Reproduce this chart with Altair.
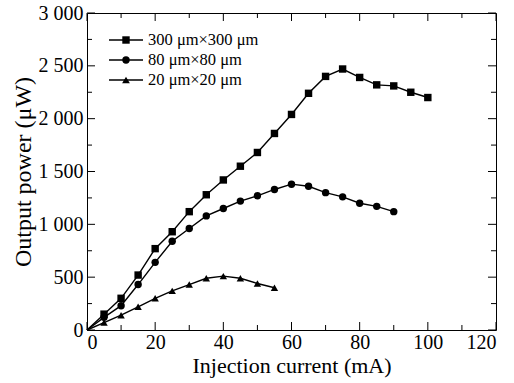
import altair as alt
import pandas as pd

# ---- data ----
series_names = ["300 μm×300 μm", "80 μm×80 μm", "20 μm×20 μm"]
current_300 = [0, 5, 10, 15, 20, 25, 30, 35, 40, 45, 50, 55, 60, 65, 70, 75, 80, 85, 90, 95, 100]
power_300 = [0, 150, 300, 520, 770, 930, 1120, 1280, 1420, 1550, 1680, 1860, 2040, 2240, 2400, 2470, 2390, 2320, 2310, 2250, 2200]
current_80 = [0, 5, 10, 15, 20, 25, 30, 35, 40, 45, 50, 55, 60, 65, 70, 75, 80, 85, 90]
power_80 = [0, 120, 230, 430, 640, 840, 960, 1080, 1150, 1220, 1270, 1330, 1380, 1360, 1300, 1260, 1200, 1170, 1120]
current_20 = [0, 5, 10, 15, 20, 25, 30, 35, 40, 45, 50, 55]
power_20 = [0, 70, 140, 220, 300, 370, 430, 490, 510, 490, 440, 400]

x_major = [0, 20, 40, 60, 80, 100, 120]
x_minor = [10, 30, 50, 70, 90, 110]
y_major = [0, 500, 1000, 1500, 2000, 2500, 3000]
y_minor = [250, 750, 1250, 1750, 2250, 2750]

W, H = 409, 317
FONT = "'Liberation Serif', 'Times New Roman', 'DejaVu Serif', serif"

rows = []
for name, xs_, ys_ in zip(series_names, [current_300, current_80, current_20], [power_300, power_80, power_20]):
    for a, b in zip(xs_, ys_):
        rows.append({"series": name, "current": a, "power": b})
df = pd.DataFrame(rows)
df_pts = df[df["current"] > 0]

xscale = alt.Scale(domain=[0, 120], nice=False, zero=False)
yscale = alt.Scale(domain=[0, 3000], nice=False, zero=False)
xaxis = alt.Axis(values=x_major, title="Injection current (mA)", format="d",
                 titleFontSize=22)
yaxis = alt.Axis(values=y_major, title="Output power (μW)", titleFontSize=24,
                 labelExpr="replace(format(datum.value, ','), ',', ' ')")
shape_scale = alt.Scale(domain=series_names, range=["square", "circle", "triangle-up"])


def X(field):
    return alt.X(field, type="quantitative", scale=xscale, axis=xaxis)


def Y(field):
    return alt.Y(field, type="quantitative", scale=yscale, axis=yaxis)


lines = alt.Chart(df).mark_line(color="black", strokeWidth=1.4).encode(
    x=X("current"), y=Y("power"), detail="series:N", order="current:Q"
)
points = alt.Chart(df_pts).mark_point(filled=True, opacity=1, color="black").encode(
    x=X("current"), y=Y("power"),
    shape=alt.Shape("series:N", scale=shape_scale, legend=None),
    size=alt.Size("series:N", scale=alt.Scale(domain=series_names, range=[55, 55, 60]), legend=None),
)

layers = [lines, points]

# inward ticks on all four sides
for vals, L in [(x_major, 8), (x_minor, 5)]:
    d = pd.DataFrame({"v": vals})
    layers.append(alt.Chart(d).mark_rule(color="black", strokeWidth=1).encode(
        x=X("v"), y=alt.value(H), y2=alt.value(H - L)))
    layers.append(alt.Chart(d).mark_rule(color="black", strokeWidth=1).encode(
        x=X("v"), y=alt.value(0), y2=alt.value(L)))
for vals, L in [(y_major, 8), (y_minor, 5)]:
    d = pd.DataFrame({"v": vals})
    layers.append(alt.Chart(d).mark_rule(color="black", strokeWidth=1).encode(
        y=Y("v"), x=alt.value(0), x2=alt.value(L)))
    layers.append(alt.Chart(d).mark_rule(color="black", strokeWidth=1).encode(
        y=Y("v"), x=alt.value(W), x2=alt.value(W - L)))

# manual legend (top-left, inside plot)
leg_shapes = ["square", "circle", "triangle-up"]
leg_sizes = [55, 55, 60]
leg_y = [27, 47, 67]
for name, shp, sz, yy in zip(series_names, leg_shapes, leg_sizes, leg_y):
    d = pd.DataFrame({"label": [name]})
    layers.append(alt.Chart(d).mark_rule(color="black", strokeWidth=1.4).encode(
        x=alt.value(22), x2=alt.value(56), y=alt.value(yy)))
    layers.append(alt.Chart(d).mark_point(shape=shp, size=sz, filled=True, opacity=1, color="black").encode(
        x=alt.value(39), y=alt.value(yy)))
    layers.append(alt.Chart(d).mark_text(align="left", baseline="middle", font=FONT, fontSize=16.5,
                                         color="black").encode(
        x=alt.value(61), y=alt.value(yy), text="label:N"))

chart = alt.layer(*layers).properties(
    width=W, height=H,
    autosize=alt.AutoSizeParams(type="none"),
    padding={"left": 87, "top": 13, "right": 18, "bottom": 53},
).configure_view(
    stroke="black", strokeWidth=1
).configure_axis(
    domain=False, ticks=False, grid=False,
    labelFont=FONT, labelFontSize=20, labelColor="black",
    titleFont=FONT, titleFontWeight="normal", titleColor="black",
).configure_axisX(
    labelPadding=2, titlePadding=3
).configure_axisY(
    labelPadding=4, titlePadding=3
)

chart.save("out.html", embed_options={"renderer": "svg", "actions": False})
